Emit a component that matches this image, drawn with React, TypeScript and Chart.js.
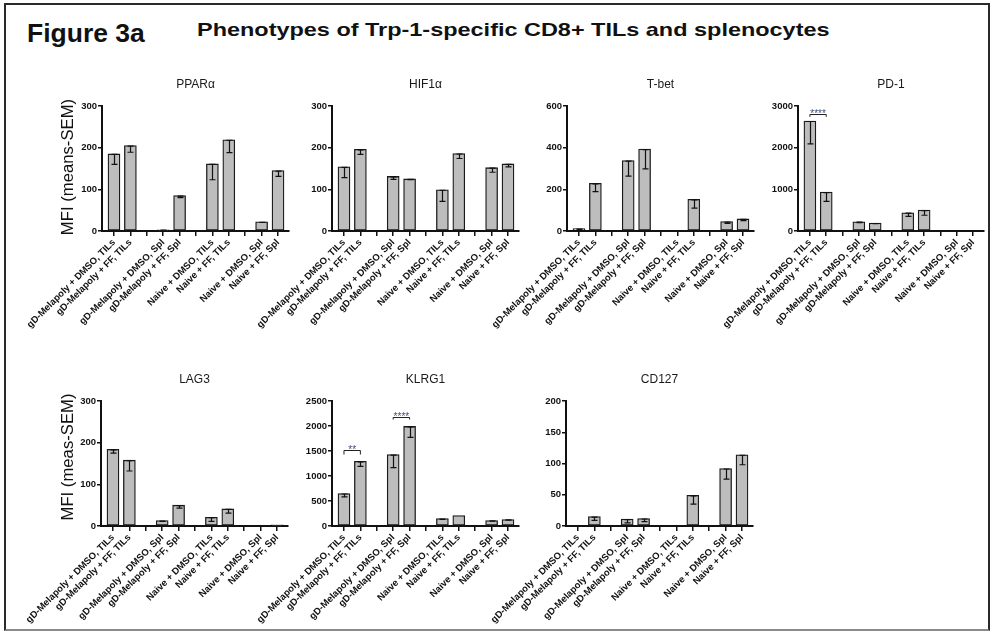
import React, { useEffect, useRef } from 'react';
import { Chart, registerables } from 'chart.js';

Chart.register(...registerables);

// ---------- data ----------
const CATEGORIES = [
  'gD-Melapoly + DMSO, TILs',
  'gD-Melapoly + FF, TILs',
  'gD-Melapoly + DMSO, Spl',
  'gD-Melapoly + FF, Spl',
  'Naive + DMSO, TILs',
  'Naive + FF, TILs',
  'Naive + DMSO, Spl',
  'Naive + FF, Spl',
];
// category slot index on the x axis (empty slot between each pair of groups)
const SLOTS = [0, 1, 3, 4, 6, 7, 9, 10];
const SLOT_COUNT = 11;

const PPARA_MEAN = [185, 205, 3, 85, 161, 219, 22, 145];
const PPARA_SEM = [25, 16, 1, 5, 38, 31, 1, 14];

const HIF1A_MEAN = [154, 196, 131, 125, 99, 186, 152, 161];
const HIF1A_SEM = [26, 12, 7, 2, 28, 12, 11, 7];

const TBET_MEAN = [12, 229, 338, 393, 0, 152, 45, 58];
const TBET_SEM = [5, 40, 75, 95, 0, 42, 9, 8];

const PD1_MEAN = [2640, 934, 223, 191, 439, 503, 0, 0];
const PD1_SEM = [550, 225, 20, 15, 90, 125, 0, 0];

const LAG3_MEAN = [184, 158, 13, 50, 21, 41, 0, 3];
const LAG3_SEM = [9, 26, 2, 7, 10, 10, 0, 0];

const KLRG1_MEAN = [650, 1293, 1428, 1991, 147, 208, 107, 127];
const KLRG1_SEM = [67, 100, 260, 220, 15, 0, 5, 5];

const CD127_MEAN = [0, 15, 11, 12, 0, 49, 92, 114];
const CD127_SEM = [0, 6, 6, 5, 0, 14, 17, 16];

type Bracket = { from: number; to: number; at: number; drop: number; label: string };
const PD1_BRACKETS: Bracket[] = [{ from: 0, to: 1, at: 2800, drop: 2740, label: '****' }];
const KLRG1_BRACKETS: Bracket[] = [
  { from: 0, to: 1, at: 1520, drop: 1430, label: '**' },
  { from: 2, to: 3, at: 2185, drop: 2130, label: '****' },
];

const TITLES = ['PPARα', 'HIF1α', 'T-bet', 'PD-1', 'LAG3', 'KLRG1', 'CD127'];
const Y_TITLE_TOP = 'MFI (means-SEM)';
const Y_TITLE_BOTTOM = 'MFI (meas-SEM)';

type Spec = {
  title: string;
  mean: number[];
  sem: number[];
  yMax: number;
  yStep: number;
  brackets: Bracket[];
  yTitle?: string;
};

const SPECS: Spec[] = [
  { title: TITLES[0], mean: PPARA_MEAN, sem: PPARA_SEM, yMax: 300, yStep: 100, brackets: [], yTitle: Y_TITLE_TOP },
  { title: TITLES[1], mean: HIF1A_MEAN, sem: HIF1A_SEM, yMax: 300, yStep: 100, brackets: [] },
  { title: TITLES[2], mean: TBET_MEAN, sem: TBET_SEM, yMax: 600, yStep: 200, brackets: [] },
  { title: TITLES[3], mean: PD1_MEAN, sem: PD1_SEM, yMax: 3000, yStep: 1000, brackets: PD1_BRACKETS },
  { title: TITLES[4], mean: LAG3_MEAN, sem: LAG3_SEM, yMax: 300, yStep: 100, brackets: [], yTitle: Y_TITLE_BOTTOM },
  { title: TITLES[5], mean: KLRG1_MEAN, sem: KLRG1_SEM, yMax: 2500, yStep: 500, brackets: KLRG1_BRACKETS },
  { title: TITLES[6], mean: CD127_MEAN, sem: CD127_SEM, yMax: 200, yStep: 50, brackets: [] },
];

// ---------- layout (pixels) ----------
type Frame = { axisX: number; axisEnd: number; top: number; bottom: number; canvasBottom: number; yTitleDx: number; yTitleDy: number };
const FRAMES: Frame[] = [
  { axisX: 102, axisEnd: 289, top: 106, bottom: 231, canvasBottom: 385, yTitleDx: 29.5, yTitleDy: -1.5 },
  { axisX: 332, axisEnd: 519, top: 106, bottom: 231, canvasBottom: 385, yTitleDx: 29.5, yTitleDy: 0 },
  { axisX: 567, axisEnd: 754, top: 106, bottom: 231, canvasBottom: 385, yTitleDx: 29.5, yTitleDy: 0 },
  { axisX: 798, axisEnd: 984, top: 106, bottom: 231, canvasBottom: 385, yTitleDx: 29.5, yTitleDy: 0 },
  { axisX: 101, axisEnd: 288, top: 401, bottom: 526, canvasBottom: 632, yTitleDx: 28, yTitleDy: -6.5 },
  { axisX: 332, axisEnd: 519, top: 401, bottom: 526, canvasBottom: 632, yTitleDx: 28, yTitleDy: 0 },
  { axisX: 566, axisEnd: 753, top: 401, bottom: 526, canvasBottom: 632, yTitleDx: 28, yTitleDy: 0 },
];

const FONT = '"Liberation Sans", Arial, sans-serif';
const LEFT_SPACE = 100;
const TOP_SPACE = 46;
const RIGHT_SPACE = 4;

const SLOT_LABELS: string[] = Array.from({ length: SLOT_COUNT }, () => '');
SLOTS.forEach((s, i) => {
  SLOT_LABELS[s] = CATEGORIES[i];
});

function Panel({ spec, frame }: { spec: Spec; frame: Frame }) {
  const ref = useRef<HTMLCanvasElement | null>(null);
  const width = LEFT_SPACE + (frame.axisEnd - frame.axisX) + RIGHT_SPACE;
  const height = frame.canvasBottom - (frame.top - TOP_SPACE);
  const xHeight = frame.canvasBottom - frame.bottom;

  useEffect(() => {
    const canvas = ref.current;
    if (!canvas) return;

    const decor = {
      id: 'decor',
      afterDatasetsDraw(chart: any) {
        const { ctx, chartArea } = chart;
        const x = chart.scales.x;
        const y = chart.scales.y;
        ctx.save();
        // error bars (mean - SEM)
        ctx.strokeStyle = '#111';
        ctx.lineWidth = 1.2;
        spec.mean.forEach((m, i) => {
          const s = spec.sem[i];
          if (!s || !m) return;
          const px = Math.round(x.getPixelForValue(SLOTS[i])) + 0.5;
          const y1 = y.getPixelForValue(m);
          const y2 = y.getPixelForValue(Math.max(m - s, 0));
          ctx.beginPath();
          ctx.moveTo(px, y1);
          ctx.lineTo(px, y2);
          ctx.moveTo(px - 3, y2);
          ctx.lineTo(px + 3, y2);
          ctx.moveTo(px - 3, y1 + 0.5);
          ctx.lineTo(px + 3, y1 + 0.5);
          ctx.stroke();
        });
        // significance brackets
        spec.brackets.forEach((b) => {
          const x1 = x.getPixelForValue(SLOTS[b.from]);
          const x2 = x.getPixelForValue(SLOTS[b.to]);
          const yb = Math.round(y.getPixelForValue(b.at)) + 0.5;
          const yd = y.getPixelForValue(b.drop);
          ctx.strokeStyle = '#222';
          ctx.lineWidth = 1;
          ctx.beginPath();
          ctx.moveTo(x1, yd);
          ctx.lineTo(x1, yb);
          ctx.lineTo(x2, yb);
          ctx.lineTo(x2, yd);
          ctx.stroke();
          ctx.fillStyle = '#3d4f80';
          ctx.font = `10px ${FONT}`;
          ctx.textAlign = 'center';
          ctx.textBaseline = 'alphabetic';
          ctx.fillText(b.label, (x1 + x2) / 2, yb + 2.5);
        });
        // panel title
        ctx.fillStyle = '#1a1a1a';
        ctx.font = `12px ${FONT}`;
        ctx.textAlign = 'center';
        ctx.textBaseline = 'alphabetic';
        ctx.fillText(spec.title, (chartArea.left + chartArea.right) / 2, chartArea.top - 18.5);
        // y axis title
        if (spec.yTitle) {
          ctx.save();
          ctx.translate(chartArea.left - frame.yTitleDx, (chartArea.top + chartArea.bottom) / 2 + frame.yTitleDy);
          ctx.rotate(-Math.PI / 2);
          ctx.font = `16.7px ${FONT}`;
          ctx.fillStyle = '#111';
          ctx.textAlign = 'center';
          ctx.textBaseline = 'alphabetic';
          ctx.fillText(spec.yTitle, 0, 0);
          ctx.restore();
        }
        ctx.restore();
      },
    };

    const chart = new Chart(canvas, {
      type: 'bar',
      data: {
        datasets: [
          {
            data: spec.mean.map((v, i) => ({ x: SLOTS[i], y: v })),
            backgroundColor: '#bdbdbd',
            borderColor: '#1a1a1a',
            borderWidth: 1.3,
            borderSkipped: false,
            barThickness: 12,
          },
        ],
      },
      options: {
        animation: false,
        responsive: false,
        maintainAspectRatio: false,
        layout: { padding: { top: TOP_SPACE, left: 0, right: RIGHT_SPACE, bottom: 0 } },
        plugins: { legend: { display: false }, tooltip: { enabled: false }, title: { display: false } },
        scales: {
          x: {
            type: 'linear',
            bounds: 'data',
            offset: false,
            min: -0.73,
            max: SLOT_COUNT - 1 + 0.67,
            afterBuildTicks: (s: any) => {
              s.ticks = SLOT_LABELS.map((_, i) => ({ value: i }));
            },
            afterFit: (s: any) => {
              s.height = xHeight;
            },
            ticks: {
              autoSkip: false,
              minRotation: 45,
              maxRotation: 45,
              padding: 1,
              color: '#111',
              font: { family: FONT, size: 9.5, weight: 'bold' },
              callback: (v: any) => SLOT_LABELS[Math.round(Number(v))] ?? '',
            },
            grid: {
              display: true,
              offset: false,
              drawOnChartArea: false,
              drawTicks: true,
              tickLength: 5,
              color: '#111',
              lineWidth: 1.5,
            },
            border: { display: true, color: '#111', width: 2 },
          },
          y: {
            min: 0,
            max: spec.yMax,
            afterFit: (s: any) => {
              s.width = LEFT_SPACE;
            },
            ticks: {
              stepSize: spec.yStep,
              padding: 1,
              color: '#111',
              font: { family: FONT, size: 9.5, weight: 'bold' },
              callback: (v: any) => String(v),
            },
            grid: {
              display: true,
              drawOnChartArea: false,
              drawTicks: true,
              tickLength: 4,
              color: '#111',
              lineWidth: 1.5,
            },
            border: { display: true, color: '#111', width: 2 },
          },
        },
      } as any,
      plugins: [decor],
    });
    return () => chart.destroy();
  }, [spec, frame, xHeight]);

  return (
    <canvas
      ref={ref}
      width={width}
      height={height}
      style={{
        position: 'absolute',
        left: frame.axisX - LEFT_SPACE,
        top: frame.top - TOP_SPACE,
        width,
        height,
      }}
    />
  );
}

export default function App() {
  return (
    <div
      style={{
        position: 'absolute',
        left: 0,
        top: 0,
        width: 991,
        height: 632,
        background: '#fff',
        overflow: 'hidden',
        fontFamily: FONT,
      }}
    >
      <div
        style={{
          position: 'absolute',
          left: 4,
          top: 3,
          width: 986,
          height: 628,
          boxSizing: 'border-box',
          border: '2px solid #2a2a2a',
          borderBottomColor: '#8a8a8a',
        }}
      />
      <div
        style={{
          position: 'absolute',
          left: 27,
          top: 20.5,
          fontSize: 25,
          lineHeight: '25px',
          fontWeight: 'bold',
          color: '#111',
          whiteSpace: 'nowrap',
          transform: 'scaleX(1.06)',
          transformOrigin: 'left center',
        }}
      >
        Figure 3a
      </div>
      <div
        style={{
          position: 'absolute',
          left: 197,
          top: 19.5,
          fontSize: 19,
          lineHeight: '19px',
          fontWeight: 'bold',
          color: '#111',
          whiteSpace: 'nowrap',
          transform: 'scaleX(1.234)',
          transformOrigin: 'left center',
        }}
      >
        Phenotypes of Trp-1-specific CD8+ TILs and splenocytes
      </div>
      {SPECS.map((spec, i) => (
        <Panel key={i} spec={spec} frame={FRAMES[i]} />
      ))}
    </div>
  );
}
